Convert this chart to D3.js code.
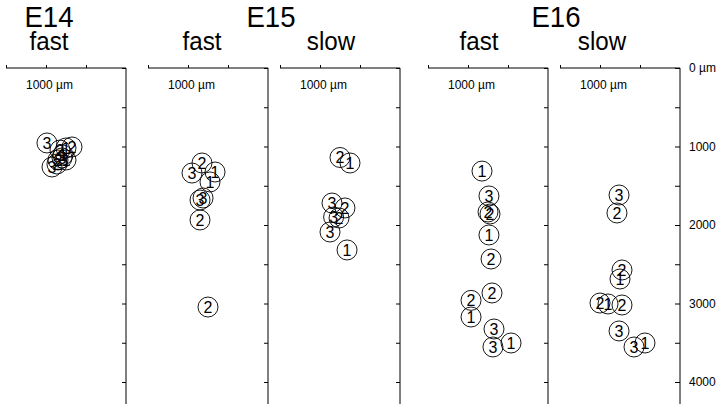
<!DOCTYPE html>
<html><head><meta charset="utf-8">
<script src="https://cdn.jsdelivr.net/npm/d3@7"></script>
<style>body{margin:0;background:#fff}svg{display:block}text{font-family:"Liberation Sans",Arial,sans-serif;fill:#000}</style>
</head><body>
<svg id="c" width="720" height="407"></svg>
<script>
// Data (µm: x across panel, d = depth from surface, n = cell label)
const e14Fast = [
  {x:512,d:955,n:"3"},{x:675,d:1045,n:"2"},{x:750,d:1019,n:"1"},{x:825,d:1006,n:"2"},
  {x:712,d:1108,n:"1"},{x:650,d:1172,n:"2"},{x:750,d:1172,n:"1"},{x:575,d:1261,n:"3"},
  {x:637,d:1223,n:"2"},{x:700,d:1146,n:"3"}
];
const e15Fast = [
  {x:675,d:1210,n:"2"},{x:550,d:1338,n:"3"},{x:838,d:1325,n:"1"},{x:775,d:1452,n:"1"},
  {x:650,d:1682,n:"3"},{x:688,d:1656,n:"3"},{x:650,d:1936,n:"2"},{x:750,d:3045,n:"2"}
];
const e15Slow = [
  {x:750,d:1140,n:"2"},{x:875,d:1210,n:"1"},{x:650,d:1720,n:"3"},{x:812,d:1783,n:"2"},
  {x:670,d:1898,n:"3"},{x:738,d:1911,n:"2"},{x:625,d:2089,n:"3"},{x:838,d:2318,n:"1"}
];
const e16Fast = [
  {x:675,d:1313,n:"1"},{x:762,d:1630,n:"3"},{x:750,d:1834,n:"2"},{x:775,d:1860,n:"2"},
  {x:762,d:2127,n:"1"},{x:788,d:2433,n:"2"},{x:800,d:2866,n:"2"},{x:538,d:2960,n:"2"},
  {x:538,d:3172,n:"1"},{x:825,d:3325,n:"3"},{x:1038,d:3503,n:"1"},{x:812,d:3554,n:"3"}
];
const e16Slow = [
  {x:738,d:1618,n:"3"},{x:712,d:1847,n:"2"},{x:775,d:2573,n:"2"},{x:750,d:2688,n:"1"},
  {x:500,d:2994,n:"2"},{x:600,d:3006,n:"1"},{x:775,d:3019,n:"2"},{x:738,d:3350,n:"3"},
  {x:925,d:3554,n:"3"},{x:1062,d:3503,n:"1"}
];
const panelData = [e14Fast, e15Fast, e15Slow, e16Fast, e16Slow];
const panelNames = ["fast","fast","slow","fast","slow"];
const stageNames = ["E14","E15","E16"];
const depthTicks = [0,500,1000,1500,2000,2500,3000,3500,4000];
const depthLabels = ["0 µm","1000","2000","3000","4000"];
const scaleLabel = "1000 µm";

// Layout
const svg = d3.select("#c");
const panelLeft = [6,148,280,428,560];
const panelW = 120;
const yTop = 68, yBot = 404;
const y = d3.scaleLinear().domain([0,4000]).range([68,382]);

function condText(g, x, yb, txt, size, sx){
  g.append("text").attr("transform",`translate(${x},${yb}) scale(${sx},1)`)
    .attr("text-anchor","middle").attr("font-size",size).text(txt);
}
const stageX = [49,271,556];
stageNames.forEach((s,i)=>condText(svg, stageX[i], 27, s, 30, 0.92));
const subX = [49,202,331,479,602];
panelNames.forEach((s,i)=>condText(svg, subX[i], 50, s, 26, 0.93));

panelData.forEach((pts,i)=>{
  const L = panelLeft[i];
  const x = d3.scaleLinear().domain([0,1500]).range([L, L+panelW]);
  const g = svg.append("g");
  const top = d3.axisTop(x).tickValues([0,500,1000]).tickSize(3).tickSizeOuter(0).tickFormat("");
  const ga = g.append("g").attr("transform",`translate(0,${yTop})`).call(top);
  ga.select(".domain").attr("d",`M${L},0H${L+panelW}`).attr("stroke","#000");
  ga.selectAll(".tick line").attr("stroke","#000");
  const isLast = i===panelData.length-1;
  const yAxis = d3.axisLeft(y).tickValues(depthTicks).tickSize(isLast?5:4).tickSizeOuter(0).tickFormat("");
  const gy = g.append("g").attr("transform",`translate(${L+panelW},0)`).call(yAxis);
  gy.select(".domain").attr("d",`M0,${yTop}V${yBot}`).attr("stroke","#000");
  gy.selectAll(".tick line").attr("stroke","#000");
  g.append("text").attr("x",L+20).attr("y",89).attr("font-size",12).text(scaleLabel);
  const c = g.selectAll("g.cell").data(pts).join("g").attr("class","cell")
    .attr("transform",d=>`translate(${x(d.x)},${y(d.d)})`);
  c.append("circle").attr("r",10).attr("fill","none").attr("stroke","#000").attr("stroke-width",0.9);
  c.append("text").attr("text-anchor","middle").attr("dy","0.36em").attr("font-size",16).text(d=>d.n);
  if(isLast){
    g.selectAll("text.dl").data([0,1000,2000,3000,4000]).join("text").attr("class","dl")
      .attr("x",L+panelW+9).attr("y",d=>y(d)).attr("dy","0.35em").attr("font-size",12)
      .text((d,j)=>depthLabels[j]);
  }
});
svg.selectAll(".tick text").remove();
</script>
</body></html>
